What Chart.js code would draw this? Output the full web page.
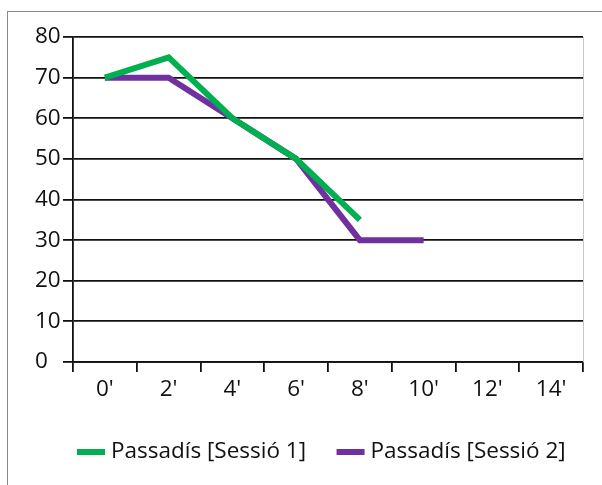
<!DOCTYPE html>
<html>
<head>
<meta charset="utf-8">
<script src="https://cdn.jsdelivr.net/npm/chart.js@4/dist/chart.umd.min.js"></script>
<style>
  html, body { margin: 0; padding: 0; background: #fff; }
  #wrap { position: relative; width: 602px; height: 485px; overflow: hidden; }
  #frame { position: absolute; left: 7px; top: 11px; width: 700px; height: 600px;
           border-left: 1px solid #8a8a8a; border-top: 1px solid #8a8a8a; }
  #c { position: absolute; left: 0; top: 0; }
</style>
</head>
<body>
<div id="wrap">
  <div id="frame"></div>
  <canvas id="c" width="602" height="485"></canvas>
</div>
<script>
// Minute marks along the x axis
const minutes = ["0'", "2'", "4'", "6'", "8'", "10'", "12'", "14'"];
// Readings for each session
const sessio1 = [70, 75, 60, 50, 35, null, null, null];
const sessio2 = [70, 70, 60, 50, 30, 30, null, null];
const seriesNames = ["Passadís [Sessió 1]", "Passadís [Sessió 2]"];
const yTicks = { min: 0, max: 80, step: 10 };

const GREEN = '#00b050';
const PURPLE = '#7030a0';
const FONT = "'Open Sans', sans-serif";
const TEXT = '#111';

// Light border on the right of the plot area
const plotBorder = {
  id: 'plotBorder',
  beforeDatasetsDraw(chart) {
    const { ctx, chartArea: a } = chart;
    ctx.save();
    ctx.strokeStyle = '#c8c8c8';
    ctx.lineWidth = 1;
    ctx.beginPath();
    ctx.moveTo(a.right + 0.5, a.top);
    ctx.lineTo(a.right + 0.5, a.bottom);
    ctx.stroke();
    ctx.restore();
  }
};

// Legend row under the axis: a short line swatch followed by the series name
const lineLegend = {
  id: 'lineLegend',
  afterDraw(chart, args, opts) {
    const { ctx } = chart;
    ctx.save();
    ctx.font = `${opts.fontSize}px ${FONT}`;
    ctx.textBaseline = 'middle';
    ctx.textAlign = 'left';
    let x = opts.x;
    const y = opts.y;
    chart.data.datasets.forEach(ds => {
      ctx.fillStyle = ds.borderColor;
      ctx.fillRect(x, y - opts.swatchH / 2, opts.swatchW, opts.swatchH);
      x += opts.swatchW + opts.textGap;
      ctx.fillStyle = TEXT;
      ctx.fillText(ds.label, x, y);
      x += ctx.measureText(ds.label).width + opts.itemGap;
    });
    ctx.restore();
  }
};

new Chart(document.getElementById('c'), {
  type: 'line',
  data: {
    labels: minutes,
    datasets: [
      { label: seriesNames[0], data: sessio1, borderColor: GREEN, backgroundColor: GREEN,
        borderWidth: 6, pointRadius: 0, tension: 0, spanGaps: false },
      { label: seriesNames[1], data: sessio2, borderColor: PURPLE, backgroundColor: PURPLE,
        borderWidth: 6, pointRadius: 0, tension: 0, spanGaps: false }
    ]
  },
  options: {
    responsive: false,
    devicePixelRatio: 1,
    animation: false,
    layout: { padding: { top: 37, right: 19, left: 35, bottom: 0 } },
    plugins: {
      tooltip: { enabled: false },
      legend: { display: false },
      lineLegend: { x: 77, y: 452, swatchW: 28, swatchH: 6, textGap: 6, itemGap: 30.5, fontSize: 22.5 }
    },
    scales: {
      x: {
        offset: true,
        afterFit(s) { s.height = 123; },
        border: { color: TEXT, width: 1.8 },
        grid: { offset: true, drawOnChartArea: false, tickLength: 10, color: TEXT, lineWidth: 1.8 },
        ticks: { color: TEXT, font: { family: FONT, size: 22.5 }, padding: 4, maxRotation: 0 }
      },
      y: {
        min: yTicks.min,
        max: yTicks.max,
        afterFit(s) { s.width = 38; },
        border: { color: TEXT, width: 1.8 },
        grid: { color: TEXT, lineWidth: 1.8, tickLength: 10 },
        ticks: { stepSize: yTicks.step, color: TEXT, font: { family: FONT, size: 22.5 },
                 padding: 3, crossAlign: 'far' }
      }
    }
  },
  plugins: [plotBorder, lineLegend]
});
</script>
</body>
</html>
